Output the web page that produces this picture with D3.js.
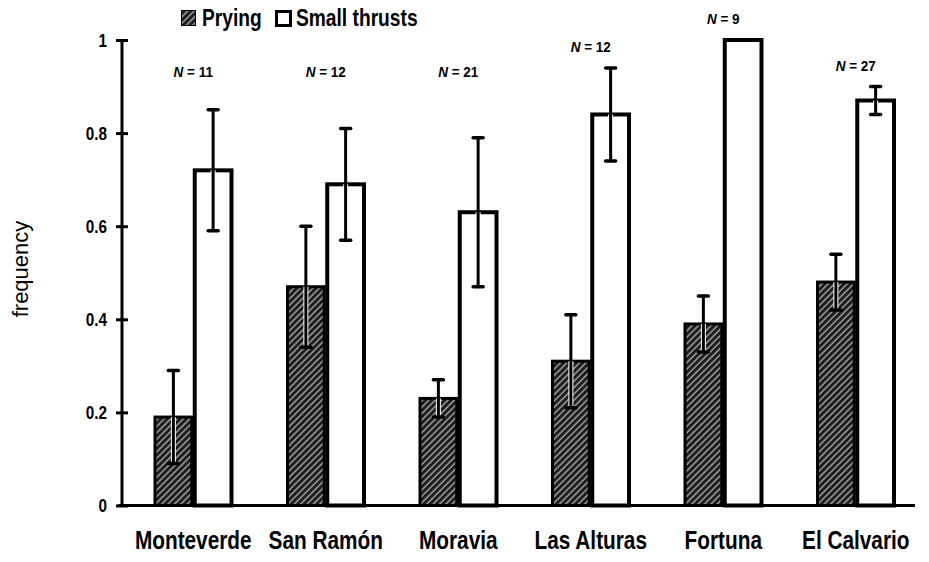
<!DOCTYPE html>
<html>
<head>
<meta charset="utf-8">
<script src="https://cdn.jsdelivr.net/npm/d3@7"></script>
<style>
    body { margin: 0; background: #fff; }
    text { font-family: 'Liberation Sans', Arial, sans-serif; fill: #000; }
</style>
</head>
<body>
<div id="chart"></div>
<script>
//Datos
const sitios = ['Monteverde', 'San Ramón', 'Moravia', 'Las Alturas', 'Fortuna', 'El Calvario'];
const tipos = ['Prying', 'Small thrusts'];
const prying = [0.19, 0.47, 0.23, 0.31, 0.39, 0.48];
const pryingBajo = [0.09, 0.34, 0.19, 0.21, 0.33, 0.42];
const pryingAlto = [0.29, 0.60, 0.27, 0.41, 0.45, 0.54];
const thrusts = [0.72, 0.69, 0.63, 0.84, 1.0, 0.87];
const thrustsBajo = [0.59, 0.57, 0.47, 0.74, null, 0.84];
const thrustsAlto = [0.85, 0.81, 0.79, 0.94, null, 0.90];
const muestras = [11, 12, 21, 12, 9, 27];
const yTicks = [0, 0.2, 0.4, 0.6, 0.8, 1];

let data = sitios.map(function(s, i) {
    return {
        sitio: s,
        n: muestras[i],
        valores: [
            {key: tipos[0], value: prying[i], lo: pryingBajo[i], hi: pryingAlto[i]},
            {key: tipos[1], value: thrusts[i], lo: thrustsBajo[i], hi: thrustsAlto[i]}
        ]
    };
});

//Letra estrecha (Helvetica condensada en el original)
const ESTRECHO = 0.8;

let margin = {top: 40, right: 7, bottom: 55, left: 122},
    width = 929 - margin.left - margin.right,
    height = 562 - margin.top - margin.bottom;

let svg = d3.select('#chart')
    .append('svg')
        .attr('width', width + margin.left + margin.right)
        .attr('height', height + margin.top + margin.bottom);

//Trama rayada
let defs = svg.append('defs');
let pat = defs.append('pattern')
    .attr('id', 'hatch')
    .attr('patternUnits', 'userSpaceOnUse')
    .attr('width', 4.5)
    .attr('height', 4.5)
    .attr('patternTransform', 'rotate(45)');
pat.append('rect').attr('width', 4.5).attr('height', 4.5).attr('fill', '#1c1c1c');
pat.append('line').attr('x1', 1).attr('x2', 1).attr('y1', 0).attr('y2', 4.5)
    .attr('stroke', '#e0e0e0').attr('stroke-width', 1);

let g = svg.append('g')
    .attr('transform', 'translate(' + margin.left + ',' + margin.top + ')');

// Escalas
let y = d3.scaleLinear()
    .domain([0, 1])
    .range([height - 1.5, 0]);

let x = d3.scaleBand()
    .domain(sitios)
    .range([5, width])
    .paddingInner(0.4)
    .paddingOuter(0.2);

let xSub = d3.scaleBand()
    .domain(tipos)
    .range([0, x.bandwidth()]);

let fill = d3.scaleOrdinal()
    .domain(tipos)
    .range(['url(#hatch)', '#fff']);

// Eje Y
let yAxis = function(sel) {
    sel.call(d3.axisLeft(y).tickValues(yTicks).tickFormat(d3.format('')).tickSize(6));
    sel.select('.domain').remove();
    sel.selectAll('.tick line').attr('x1', -6).attr('x2', 6).attr('stroke', '#000').attr('stroke-width', 3);
    sel.selectAll('.tick text')
        .attr('x', 0)
        .attr('transform', 'translate(-15,0) scale(0.85,1)')
        .style('font-family', "'Liberation Sans', sans-serif")
        .style('font-weight', 'bold')
        .style('font-size', '18px')
        .attr('dy', '0.36em');
};

g.append('g').call(yAxis);

g.append('line')
    .attr('x1', 0).attr('x2', 0)
    .attr('y1', y(1)).attr('y2', y(0))
    .attr('stroke', '#000').attr('stroke-width', 3);

g.append('line')
    .attr('x1', -4).attr('x2', width - 7)
    .attr('y1', y(0)).attr('y2', y(0))
    .attr('stroke', '#000').attr('stroke-width', 3);

// Barras
let grupos = g.append('g')
    .selectAll('g')
    .data(data)
    .enter()
    .append('g')
    .attr('transform', function(d) { return 'translate(' + x(d.sitio) + ',0)'; });

grupos.selectAll('rect')
    .data(function(d) { return d.valores; })
    .enter()
    .append('rect')
    .attr('x', function(d) { return xSub(d.key) + 1.5; })
    .attr('width', xSub.bandwidth() - 3)
    .attr('y', function(d) { return y(d.value); })
    .attr('height', function(d) { return y(0) - y(d.value); })
    .attr('fill', function(d) { return fill(d.key); })
    .attr('stroke', '#000')
    .attr('stroke-width', function(d) { return d.key == tipos[0] ? 3 : 4; });

// Barras de error
let errores = grupos.selectAll('.err')
    .data(function(d) { return d.valores.filter(function(v) { return v.lo != null; }); })
    .enter()
    .append('g')
    .attr('class', 'err')
    .attr('transform', function(d) { return 'translate(' + (xSub(d.key) + xSub.bandwidth() / 2) + ',0)'; });

errores.append('line')
    .attr('y1', function(d) { return y(d.value); })
    .attr('y2', function(d) { return y(d.lo); })
    .attr('stroke', '#fff')
    .attr('stroke-width', 5);

errores.append('line')
    .attr('y1', function(d) { return y(d.hi); })
    .attr('y2', function(d) { return y(d.lo); })
    .attr('stroke', '#000')
    .attr('stroke-width', 3);

errores.selectAll('.cap')
    .data(function(d) { return [d.lo, d.hi]; })
    .enter()
    .append('line')
    .attr('x1', -5).attr('x2', 5)
    .attr('y1', function(d) { return y(d); })
    .attr('y2', function(d) { return y(d); })
    .attr('stroke', '#000')
    .attr('stroke-width', 3.5)
    .attr('stroke-linecap', 'round');

// Etiquetas N
let nLabel = grupos.append('text')
    .attr('transform', function(d) {
        let top = d3.max(d.valores, function(v) { return v.hi != null ? v.hi : v.value; });
        let ty = Math.min(y(top) - 16, 37);
        return 'translate(' + (x.bandwidth() / 2) + ',' + ty + ') scale(0.9,1)';
    })
    .attr('text-anchor', 'middle')
    .style('font-size', '15px')
    .style('font-weight', 'bold');
nLabel.append('tspan').style('font-style', 'italic').text('N');
nLabel.append('tspan').text(function(d) { return ' = ' + d.n; });

// Etiquetas de categorías
g.append('g')
    .selectAll('text')
    .data(sitios)
    .enter()
    .append('text')
    .attr('transform', function(d) {
        return 'translate(' + (x(d) + x.bandwidth() / 2) + ',' + (height + 42) + ') scale(' + ESTRECHO + ',1)';
    })
    .attr('text-anchor', 'middle')
    .style('font-size', '26px')
    .style('font-weight', 'bold')
    .text(function(d) { return d; });

// Título eje Y
svg.append('text')
    .attr('transform', 'translate(28,269) rotate(-90)')
    .attr('text-anchor', 'middle')
    .style('font-size', '22px')
    .text('frequency');

// Leyenda
const leyendaX = [0, 94];
let leyenda = svg.append('g').attr('transform', 'translate(181,10)');
let item = leyenda.selectAll('g')
    .data(tipos)
    .enter()
    .append('g')
    .attr('transform', function(d, i) { return 'translate(' + leyendaX[i] + ',0)'; });
item.append('rect')
    .attr('x', function(d, i) { return i == 0 ? 0.5 : 1.5; })
    .attr('y', function(d, i) { return i == 0 ? 0.5 : 1.5; })
    .attr('width', function(d, i) { return i == 0 ? 14 : 14; })
    .attr('height', function(d, i) { return i == 0 ? 15 : 14; })
    .attr('fill', function(d) { return fill(d); })
    .attr('stroke', '#000')
    .attr('stroke-width', function(d, i) { return i == 0 ? 1 : 3; });
item.append('text')
    .attr('transform', 'translate(21,16) scale(' + ESTRECHO + ',1)')
    .style('font-size', '24px')
    .style('font-weight', 'bold')
    .text(function(d) { return d; });
</script>
</body>
</html>
